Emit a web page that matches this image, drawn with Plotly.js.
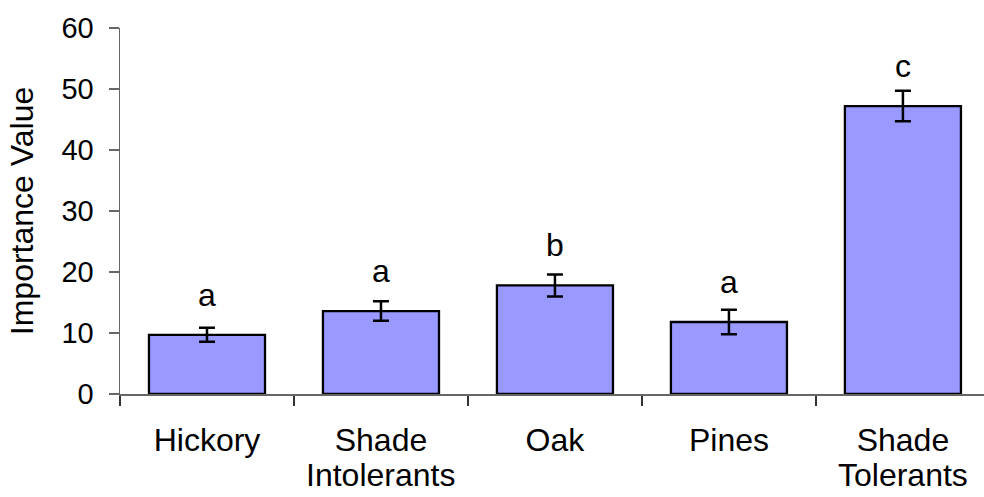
<!DOCTYPE html>
<html>
<head>
<meta charset="utf-8">
<script src="https://cdn.plot.ly/plotly-3.0.1.min.js"></script>
<style>html,body{margin:0;padding:0;background:#fff;overflow:hidden}#chart{width:984px;height:497px}</style>
</head>
<body>
<div id="chart"></div>
<script>
// Data
const categories = ["Hickory", "Shade Intolerants", "Oak", "Pines", "Shade Tolerants"];
const labelLine1 = ["Hickory", "Shade", "Oak", "Pines", "Shade"];
const labelLine2 = ["", "Intolerants", "", "", "Tolerants"];
const importanceValues = [9.7, 13.6, 17.8, 11.8, 47.2];
const errorValues = [1.15, 1.6, 1.8, 2.0, 2.5];
const groupLetters = ["a", "a", "b", "a", "c"];
const yTicks = [0, 10, 20, 30, 40, 50, 60];

const FONT = "Arial, 'Liberation Sans', sans-serif";
const AXIS = "#666666";

const trace = {
  type: "bar",
  x: categories,
  y: importanceValues,
  width: 0.667,
  marker: { color: "#9999FF", line: { color: "#000000", width: 2.3 } },
  error_y: { type: "data", array: errorValues, visible: true, color: "#000000", thickness: 2.5, width: 8 },
  hoverinfo: "skip"
};

const annotations = [];
categories.forEach((c, i) => {
  annotations.push({
    x: c, y: importanceValues[i], xref: "x", yref: "y",
    text: groupLetters[i], showarrow: false, yanchor: "bottom", yshift: 20,
    font: { family: FONT, size: 32, color: "#000" }
  });
  if (labelLine2[i]) {
    annotations.push({
      x: c, y: 0, xref: "x", yref: "y",
      text: labelLine2[i], showarrow: false, yanchor: "top", yshift: -61,
      font: { family: FONT, size: 32, color: "#000" }
    });
  }
});

const layout = {
  width: 984, height: 497,
  margin: { l: 120, r: 0, t: 28, b: 103 },
  paper_bgcolor: "#fff", plot_bgcolor: "#fff",
  showlegend: false,
  font: { family: FONT, color: "#000" },
  xaxis: {
    type: "category",
    categoryorder: "array", categoryarray: categories,
    range: [-0.5, 4.466],
    tickmode: "array", tickvals: categories, ticktext: labelLine1,
    tickson: "boundaries", ticks: "outside", ticklen: 10, tickwidth: 1.5, tickcolor: "#333",
    showline: true, linecolor: AXIS, linewidth: 1.5,
    showgrid: false, zeroline: false,
    tickfont: { family: FONT, size: 32, color: "#000" },
    ticklabelstandoff: 17,
    fixedrange: true
  },
  yaxis: {
    range: [0, 60],
    tickmode: "array", tickvals: yTicks, ticktext: yTicks.map(String),
    ticks: "outside", ticklen: 10, tickwidth: 1.5, tickcolor: AXIS,
    showline: true, linecolor: AXIS, linewidth: 1.5,
    showgrid: false, zeroline: false,
    tickfont: { family: FONT, size: 29, color: "#000" },
    ticklabelstandoff: 9,
    title: { text: "Importance Value", font: { family: FONT, size: 32, color: "#000" }, standoff: 18 },
    fixedrange: true
  },
  annotations: annotations
};

Plotly.newPlot("chart", [trace], layout, { staticPlot: true, displayModeBar: false });
</script>
</body>
</html>
